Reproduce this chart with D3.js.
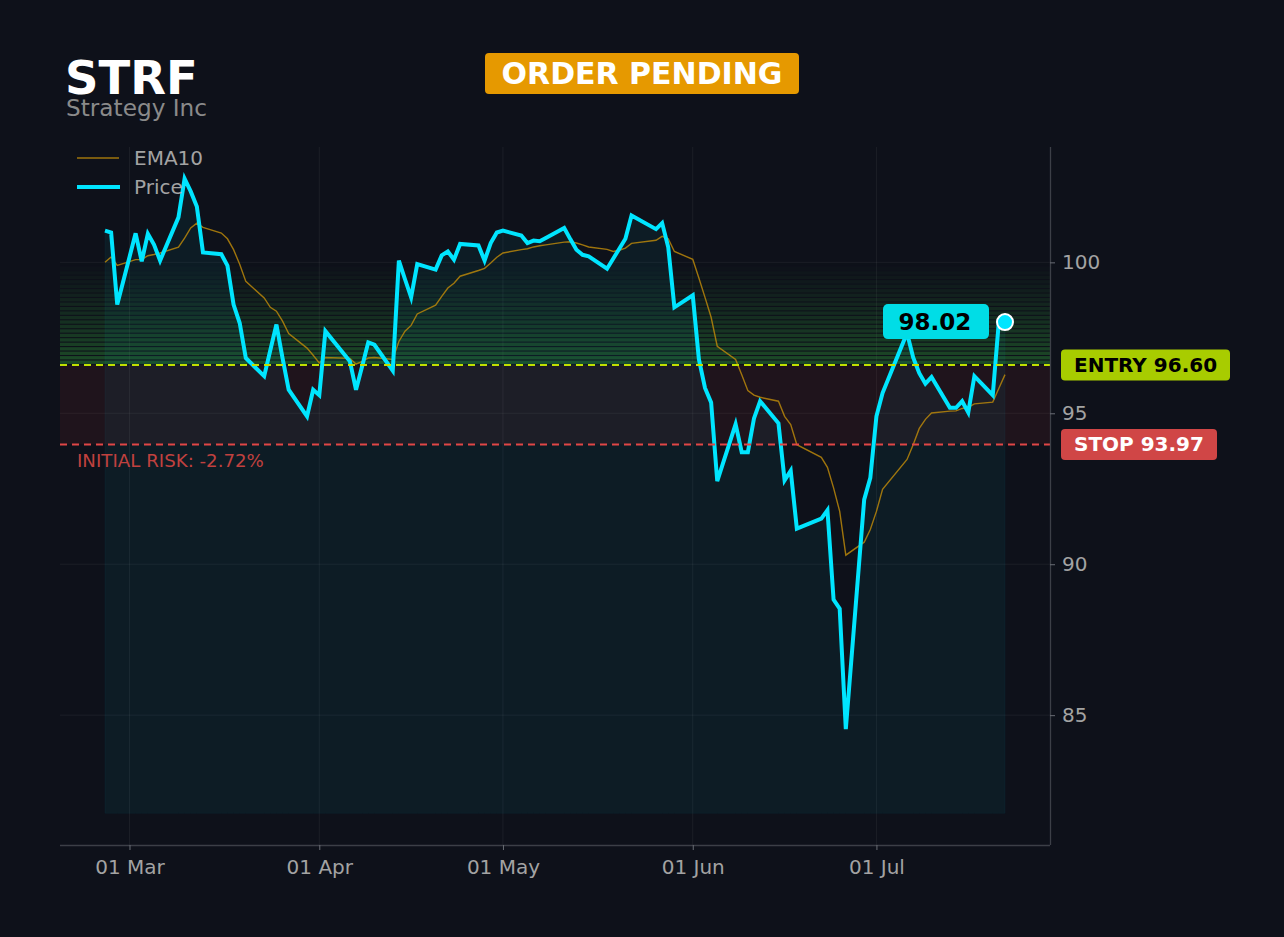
<!DOCTYPE html>
<html>
<head>
<meta charset="utf-8">
<script src="https://cdn.jsdelivr.net/npm/d3@7"></script>
<style>
  html, body { margin: 0; padding: 0; background: #0e111a; }
  svg { display: block; font-family: "DejaVu Sans", sans-serif; }
</style>
</head>
<body>
<div id="container"></div>
<script>
/* ---------- DATA ---------- */
const dates = [
  "2026-02-25", "2026-02-26", "2026-02-27",
  "2026-03-02", "2026-03-03", "2026-03-04", "2026-03-05", "2026-03-06",
  "2026-03-09", "2026-03-10", "2026-03-11", "2026-03-12", "2026-03-13",
  "2026-03-16", "2026-03-17", "2026-03-18", "2026-03-19", "2026-03-20",
  "2026-03-23", "2026-03-24", "2026-03-25", "2026-03-26", "2026-03-27",
  "2026-03-30", "2026-03-31", "2026-04-01", "2026-04-02",
  "2026-04-06", "2026-04-07", "2026-04-08", "2026-04-09", "2026-04-10",
  "2026-04-13", "2026-04-14", "2026-04-15", "2026-04-16", "2026-04-17",
  "2026-04-20", "2026-04-21", "2026-04-22", "2026-04-23", "2026-04-24",
  "2026-04-27", "2026-04-28", "2026-04-29", "2026-04-30", "2026-05-01",
  "2026-05-04", "2026-05-05", "2026-05-06", "2026-05-07", "2026-05-08",
  "2026-05-11", "2026-05-12", "2026-05-13", "2026-05-14", "2026-05-15",
  "2026-05-18", "2026-05-19", "2026-05-20", "2026-05-21", "2026-05-22",
  "2026-05-26", "2026-05-27", "2026-05-28", "2026-05-29",
  "2026-06-01", "2026-06-02", "2026-06-03", "2026-06-04", "2026-06-05",
  "2026-06-08", "2026-06-09", "2026-06-10", "2026-06-11", "2026-06-12",
  "2026-06-15", "2026-06-16", "2026-06-17", "2026-06-18",
  "2026-06-22", "2026-06-23", "2026-06-24", "2026-06-25", "2026-06-26",
  "2026-06-29", "2026-06-30", "2026-07-01", "2026-07-02",
  "2026-07-06", "2026-07-07", "2026-07-08", "2026-07-09", "2026-07-10",
  "2026-07-13", "2026-07-14", "2026-07-15", "2026-07-16", "2026-07-17",
  "2026-07-20", "2026-07-21", "2026-07-22"
];

const price = [
  101.05, 100.99, 98.60,
  100.96, 100.03, 100.95, 100.59, 100.06,
  101.49, 102.77, 102.35, 101.85, 100.33,
  100.27, 99.89, 98.60, 97.99, 96.83,
  96.23, 97.09, 97.94, 96.83, 95.78,
  94.90, 95.78, 95.60, 97.72,
  96.72, 95.78, 96.56, 97.35, 97.27,
  96.41, 100.06, 99.44, 98.84, 99.94,
  99.76, 100.23, 100.36, 100.09, 100.61,
  100.56, 100.06, 100.64, 100.99, 101.05,
  100.89, 100.64, 100.72, 100.70, 100.81,
  101.14, 100.77, 100.42, 100.25, 100.20,
  99.79, 100.12, 100.45, 100.78, 101.55,
  101.10, 101.30, 100.50, 98.51,
  98.91, 96.79, 95.84, 95.36, 92.75,
  94.64, 93.71, 93.71, 94.83, 95.40,
  94.67, 92.78, 93.10, 91.18,
  91.51, 91.79, 88.83, 88.53, 84.54,
  92.14, 92.86, 94.90, 95.67,
  97.66, 96.85, 96.33, 95.98, 96.20,
  95.18, 95.18, 95.40, 95.03, 96.23,
  95.60, 98.05, 98.02
];

const ema10 = [
  100.00, 100.18, 99.90,
  100.09, 100.09, 100.22, 100.26, 100.31,
  100.50, 100.80, 101.14, 101.30, 101.16,
  100.97, 100.78, 100.42, 99.94, 99.37,
  98.82, 98.51, 98.38, 98.05, 97.64,
  97.16, 96.92, 96.67, 96.85,
  96.82, 96.63, 96.72, 96.83, 96.85,
  96.78, 97.38, 97.72, 97.91, 98.29,
  98.58, 98.87, 99.15, 99.31, 99.54,
  99.73, 99.80, 99.98, 100.17, 100.31,
  100.42, 100.45, 100.51, 100.55, 100.58,
  100.67, 100.68, 100.64, 100.58, 100.51,
  100.43, 100.36, 100.40, 100.47, 100.63,
  100.73, 100.86, 100.78, 100.36,
  100.10, 99.48, 98.84, 98.18, 97.22,
  96.78, 96.28, 95.75, 95.60, 95.53,
  95.40, 94.90, 94.63, 93.96,
  93.54, 93.21, 92.53, 91.75, 90.30,
  90.73, 91.15, 91.75, 92.48,
  93.47, 93.96, 94.50, 94.80, 95.01,
  95.07, 95.08, 95.16, 95.20, 95.31,
  95.37, 95.83, 96.28
];

const ticker = "STRF";
const company = "Strategy Inc";
const status = "ORDER PENDING";
const entryPrice = 96.60;
const stopPrice = 93.97;
const zoneTop = 100.0;       // top of the green gradient zone
const areaBase = 81.75;      // floor of the price area fill
const riskText = "INITIAL RISK: -2.72%";
const yTicks = [85, 90, 95, 100];

/* ---------- CONSTANTS ---------- */
const width = 1284,
  height = 937,
  margin = { top: 147, bottom: 92, left: 60, right: 234 };
const cyan = "#00e5ff";
const parseDate = d3.timeParse("%Y-%m-%d");

const data = dates.map((d, i) => ({ date: parseDate(d), price: price[i], ema: ema10[i] }));

/* ---------- SCALES ---------- */
const xExt = d3.extent(data, d => d.date);
const xPad = (xExt[1] - xExt[0]) * 0.05;
const xScale = d3.scaleTime()
  .domain([new Date(+xExt[0] - xPad), new Date(+xExt[1] + xPad)])
  .range([margin.left, width - margin.right]);

const yMax = d3.max(data, d => d.price);
const yPad = (yMax - areaBase) * 0.05;
const yScale = d3.scaleLinear()
  .domain([areaBase - yPad, yMax + yPad])
  .range([height - margin.bottom, margin.top]);

const x0 = margin.left, x1 = width - margin.right;
const yTop = margin.top, yBot = height - margin.bottom;

/* ---------- SVG ---------- */
const svg = d3.select("#container")
  .append("svg")
  .attr("width", width)
  .attr("height", height);

svg.append("rect")
  .attr("width", width)
  .attr("height", height)
  .attr("fill", "#0e111a");

// grid
svg.append("g")
  .selectAll("line")
  .data(xScale.ticks(d3.timeMonth.every(1)))
  .join("line")
  .attr("x1", d => xScale(d)).attr("x2", d => xScale(d))
  .attr("y1", yTop).attr("y2", yBot)
  .attr("stroke", "#ffffff").attr("stroke-opacity", 0.06);

svg.append("g")
  .selectAll("line")
  .data(yTicks)
  .join("line")
  .attr("x1", x0).attr("x2", x1)
  .attr("y1", d => yScale(d)).attr("y2", d => yScale(d))
  .attr("stroke", "#ffffff").attr("stroke-opacity", 0.06);

// risk zone (stop -> entry)
svg.append("rect")
  .attr("x", x0)
  .attr("width", x1 - x0)
  .attr("y", yScale(entryPrice))
  .attr("height", yScale(stopPrice) - yScale(entryPrice))
  .attr("fill", "#d23c3c")
  .attr("fill-opacity", 0.09);

// reward zone, stacked strips fading upward
const nStrips = 23;
const stripStep = (zoneTop - entryPrice) / nStrips;
svg.append("g")
  .selectAll("rect")
  .data(d3.range(nStrips))
  .join("rect")
  .attr("x", x0)
  .attr("width", x1 - x0)
  .attr("y", i => yScale(entryPrice + (i + 1) * stripStep))
  .attr("height", i => yScale(entryPrice + i * stripStep) - yScale(entryPrice + (i + 1) * stripStep) - 1.1)
  .attr("fill", "#33a03c")
  .attr("fill-opacity", i => 0.4 * Math.pow(1 - i / nStrips, 1.2));

// area under price
const area = d3.area()
  .x(d => xScale(d.date))
  .y0(yScale(areaBase))
  .y1(d => yScale(d.price));

svg.append("path")
  .datum(data)
  .attr("d", area)
  .attr("fill", cyan)
  .attr("fill-opacity", 0.05)
  .attr("stroke", cyan)
  .attr("stroke-opacity", 0.04);

// lines
const emaLine = d3.line().x(d => xScale(d.date)).y(d => yScale(d.ema));
const priceLine = d3.line().x(d => xScale(d.date)).y(d => yScale(d.price));

svg.append("path")
  .datum(data)
  .attr("d", emaLine)
  .attr("fill", "none")
  .attr("stroke", "#b8860b")
  .attr("stroke-opacity", 0.85)
  .attr("stroke-width", 1.4);

svg.append("path")
  .datum(data)
  .attr("d", priceLine)
  .attr("fill", "none")
  .attr("stroke", cyan)
  .attr("stroke-width", 4)
  .attr("stroke-linejoin", "miter");

// entry / stop lines
svg.append("line")
  .attr("x1", x0).attr("x2", x1)
  .attr("y1", yScale(entryPrice)).attr("y2", yScale(entryPrice))
  .attr("stroke", "#c0e000").attr("stroke-width", 2)
  .attr("stroke-dasharray", "7,5");

svg.append("line")
  .attr("x1", x0).attr("x2", x1)
  .attr("y1", yScale(stopPrice)).attr("y2", yScale(stopPrice))
  .attr("stroke", "#e04646").attr("stroke-width", 2)
  .attr("stroke-dasharray", "7,5");

svg.append("text")
  .attr("x", 77)
  .attr("y", yScale(stopPrice) + 23)
  .attr("fill", "#c0413f")
  .attr("font-size", 18.2)
  .text(riskText);

// axes
const xAxis = d3.axisBottom(xScale)
  .ticks(d3.timeMonth.every(1))
  .tickFormat(d3.timeFormat("%d %b"))
  .tickSize(5)
  .tickPadding(10);

const yAxis = d3.axisRight(yScale)
  .tickValues(yTicks)
  .tickSize(5)
  .tickPadding(7);

const gx = svg.append("g")
  .attr("transform", `translate(0,${yBot})`)
  .call(xAxis);
gx.select(".domain").attr("d", `M${x0},0.5H${x1}`);

const gy = svg.append("g")
  .attr("transform", `translate(${x1},0)`)
  .call(yAxis);
gy.select(".domain").attr("d", `M0.5,${yTop}V${yBot}`);

[gx, gy].forEach(g => {
  g.select(".domain").attr("stroke", "#3c3f47").attr("stroke-width", 1.3);
  g.selectAll(".tick line").attr("stroke", "#6a6d75");
  g.selectAll(".tick text")
    .attr("fill", "#a3a3a3")
    .attr("font-size", 20)
    .attr("font-family", "DejaVu Sans, sans-serif");
});

// side badges
function badge(label, yVal, bg, fg, w) {
  const cy = yScale(yVal);
  svg.append("rect")
    .attr("x", 1061).attr("y", cy - 15.5)
    .attr("width", w).attr("height", 31)
    .attr("rx", 4)
    .attr("fill", bg);
  svg.append("text")
    .attr("x", 1074).attr("y", cy + 7)
    .attr("fill", fg)
    .attr("font-size", 20)
    .attr("font-weight", "bold")
    .text(label);
}
badge(`ENTRY ${entryPrice.toFixed(2)}`, entryPrice, "#a8cc00", "#000000", 169);
badge(`STOP ${stopPrice.toFixed(2)}`, stopPrice, "#d04646", "#ffffff", 156);

// last price marker
const last = data[data.length - 1];
const lx = xScale(last.date), ly = yScale(last.price);

svg.append("rect")
  .attr("x", lx - 122).attr("y", ly - 18)
  .attr("width", 106).attr("height", 35)
  .attr("rx", 5)
  .attr("fill", "#00dde6");
svg.append("text")
  .attr("x", lx - 70).attr("y", ly + 8)
  .attr("text-anchor", "middle")
  .attr("font-size", 23)
  .attr("font-weight", "bold")
  .attr("fill", "#000000")
  .text(last.price.toFixed(2));

svg.append("circle")
  .attr("cx", lx).attr("cy", ly)
  .attr("r", 8)
  .attr("fill", cyan)
  .attr("stroke", "#ffffff")
  .attr("stroke-width", 2);

// legend
const legend = svg.append("g");
legend.append("line")
  .attr("x1", 77).attr("x2", 119).attr("y1", 158).attr("y2", 158)
  .attr("stroke", "#b8860b").attr("stroke-opacity", 0.85).attr("stroke-width", 1.5);
legend.append("text")
  .attr("x", 134).attr("y", 165)
  .attr("fill", "#a3a3a3").attr("font-size", 20)
  .text("EMA10");
legend.append("line")
  .attr("x1", 77).attr("x2", 120).attr("y1", 187).attr("y2", 187)
  .attr("stroke", cyan).attr("stroke-width", 4);
legend.append("text")
  .attr("x", 134).attr("y", 194)
  .attr("fill", "#a3a3a3").attr("font-size", 20)
  .text("Price");

// header
svg.append("text")
  .attr("x", 65).attr("y", 94)
  .attr("fill", "#ffffff")
  .attr("font-size", 46.5)
  .attr("font-weight", "bold")
  .text(ticker);

svg.append("text")
  .attr("x", 66).attr("y", 116)
  .attr("fill", "#8a8a8a")
  .attr("font-size", 23.2)
  .text(company);

svg.append("rect")
  .attr("x", 485).attr("y", 53)
  .attr("width", 314).attr("height", 41)
  .attr("rx", 4)
  .attr("fill", "#e69900");
svg.append("text")
  .attr("x", 642).attr("y", 84)
  .attr("text-anchor", "middle")
  .attr("fill", "#ffffff")
  .attr("font-size", 30)
  .attr("font-weight", "bold")
  .text(status);
</script>
</body>
</html>
